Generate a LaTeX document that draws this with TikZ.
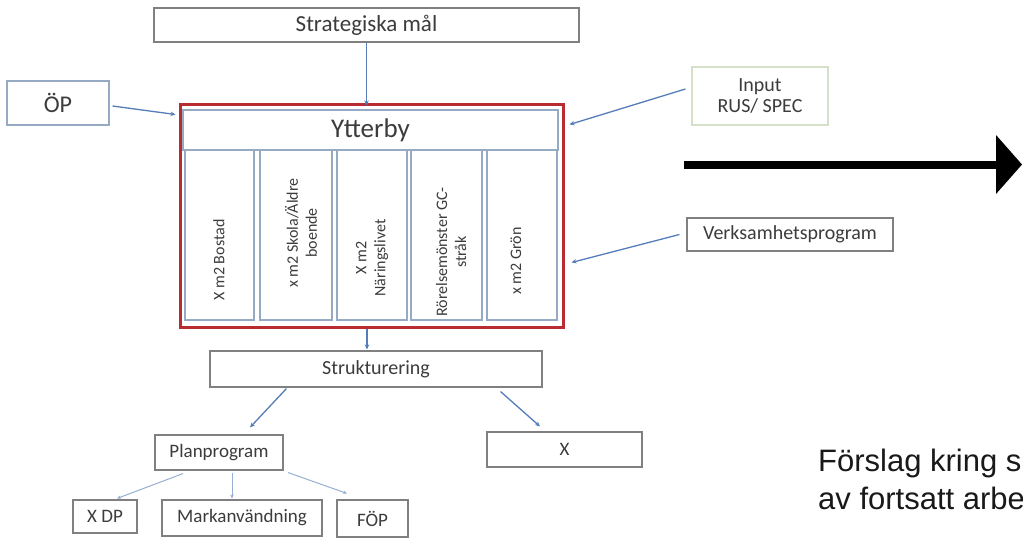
\documentclass[tikz,border=0pt]{standalone}
\usepackage{fontspec}
\setmainfont{Carlito}
\newfontfamily\arialf{Liberation Sans}
\usetikzlibrary{arrows.meta,calc}
\definecolor{boxgray}{RGB}{128,128,128}
\definecolor{txtgray}{RGB}{60,60,60}
\definecolor{bluegray}{RGB}{150,170,195}
\definecolor{redbox}{RGB}{185,45,50}
\definecolor{arrblue}{RGB}{85,125,185}
\definecolor{arrlight}{RGB}{150,175,210}
\definecolor{palegreen}{RGB}{212,224,200}
\begin{document}
\begin{tikzpicture}[x=1pt,y=-1pt,
  gbox/.style={draw=boxgray,line width=1.1pt,inner sep=0pt,text=txtgray,
    font=\fontsize{19}{21}\selectfont},
  bbox/.style={draw=bluegray,line width=1.1pt,inner sep=0pt,text=txtgray},
  coltxt/.style={rotate=90,align=center,inner sep=0pt,text=txtgray,
    font=\fontsize{16}{19}\selectfont},
  barrow/.style={draw=arrblue,line width=1.3pt,-{Stealth[length=5pt,width=4.5pt]}},
  larrow/.style={draw=arrlight,line width=1pt,-{Stealth[length=4pt,width=3.5pt]}},
  bigtext/.style={inner sep=0pt,anchor=base west,text=black!90,
    font=\arialf\fontsize{31}{37}\selectfont}]
\useasboundingbox (0,0) rectangle (1023,541);
\clip (0,0) rectangle (1023,541);
\fill[white] (0,0) rectangle (1023,541);

% top boxes
\node[gbox,minimum width=425pt,minimum height=34pt,font=\fontsize{23}{25}\selectfont] (strat) at (366.5,25) {Strategiska mål};
\node[bbox,minimum width=102pt,minimum height=44pt,font=\fontsize{24}{26}\selectfont] (op) at (58,103) {ÖP};
\node[draw=palegreen,line width=1.1pt,inner sep=0pt,text=txtgray,align=center,
  minimum width=136pt,minimum height=58pt,font=\fontsize{20}{21}\selectfont] (inp) at (760,96) {Input\\RUS/ SPEC};
\node[gbox,minimum width=206pt,minimum height=33pt,font=\fontsize{20}{22}\selectfont] (verk) at (790,234.5) {Verksamhetsprogram};

% red frame
\node[draw=redbox,line width=3pt,minimum width=383pt,minimum height=223pt,inner sep=0pt] (red) at (371.5,215.5) {};
\node[bbox,minimum width=375pt,minimum height=40pt,font=\fontsize{27}{29}\selectfont] (ytt) at (370.5,130) {Ytterby};
\node[bbox,minimum width=69pt,minimum height=170pt] (c1) at (219.5,235) {};
\node[bbox,minimum width=72pt,minimum height=170pt] (c2) at (296,235) {};
\node[bbox,minimum width=70pt,minimum height=170pt] (c3) at (372,235) {};
\node[bbox,minimum width=71pt,minimum height=170pt] (c4) at (446.5,235) {};
\node[bbox,minimum width=70pt,minimum height=170pt] (c5) at (522,235) {};
\node[coltxt] (t1) at (219,260) {X m2 Bostad};
\node[coltxt] (t2) at (301,233) {x m2 Skola/Äldre\\boende};
\node[coltxt] (t3) at (372,258) {X m2\\Näringslivet};
\node[coltxt] (t4) at (451,252) {Rörelsemönster GC-\\stråk};
\node[coltxt] (t5) at (516,261) {x m2 Grön};

% lower boxes
\node[gbox,minimum width=332pt,minimum height=36pt,font=\fontsize{20}{22}\selectfont] (strk) at (376,369) {Strukturering};
\node[gbox,minimum width=128pt,minimum height=35pt] (plan) at (219,452.5) {Planprogram};
\node[gbox,minimum width=155pt,minimum height=35pt] (xbox) at (564.5,449.5) {X};
\node[gbox,minimum width=64pt,minimum height=33pt] (xdp) at (105,516.5) {X DP};
\node[gbox,minimum width=160pt,minimum height=36pt] (mark) at (242,518) {Markanvändning};
\node[gbox,minimum width=71pt,minimum height=37pt] (fop) at (372.5,518.5) {FÖP};

% blue connectors
\draw[barrow] ($(op.east)+(3,3)$) -- ($(red.north west)+(-3,12)$);
\draw[barrow] (strat.south) -- ($(strat.south |- red.north)+(0,3)$);
\draw[barrow] ($(inp.west)+(-6,-7)$) -- ($(red.north east)+(5,22)$);
\draw[barrow] ($(verk.west)+(-7,0)$) -- ($(red.north east)+(7,160)$);
\draw[barrow] ($(red.south)+(-4.5,0)$) -- ($(strk.north)+(-9,-1)$);
\draw[barrow] ($(strk.south west)+(77,1)$) -- ($(plan.north)+(31,-7)$);
\draw[barrow] ($(strk.south east)+(-42,4)$) -- ($(xbox.north)+(-24.5,-5)$);
\draw[larrow] ($(plan.south)+(-36,3)$) -- ($(xdp.north)+(12,-1)$);
\draw[larrow] ($(plan.south)+(13,2)$) -- ($(mark.north)+(-10,-1)$);
\draw[larrow] ($(plan.south)+(69,2)$) -- ($(fop.north)+(-25.5,-6)$);

% big black arrow
\coordinate (ba) at (684,164.5);
\coordinate (bb) at (996,164.5);
\coordinate (btip) at (1022,164.5);
\draw[line width=8pt] (ba) -- (bb);
\fill (bb) -- ($(bb)+(0,-29.5)$) -- (btip) -- ($(bb)+(0,29.5)$) -- cycle;

% side text
\node[bigtext] (f1) at (818,471) {Förslag kring s};
\node[bigtext] (f2) at (818,509) {av fortsatt arbe};
\end{tikzpicture}
\end{document}
